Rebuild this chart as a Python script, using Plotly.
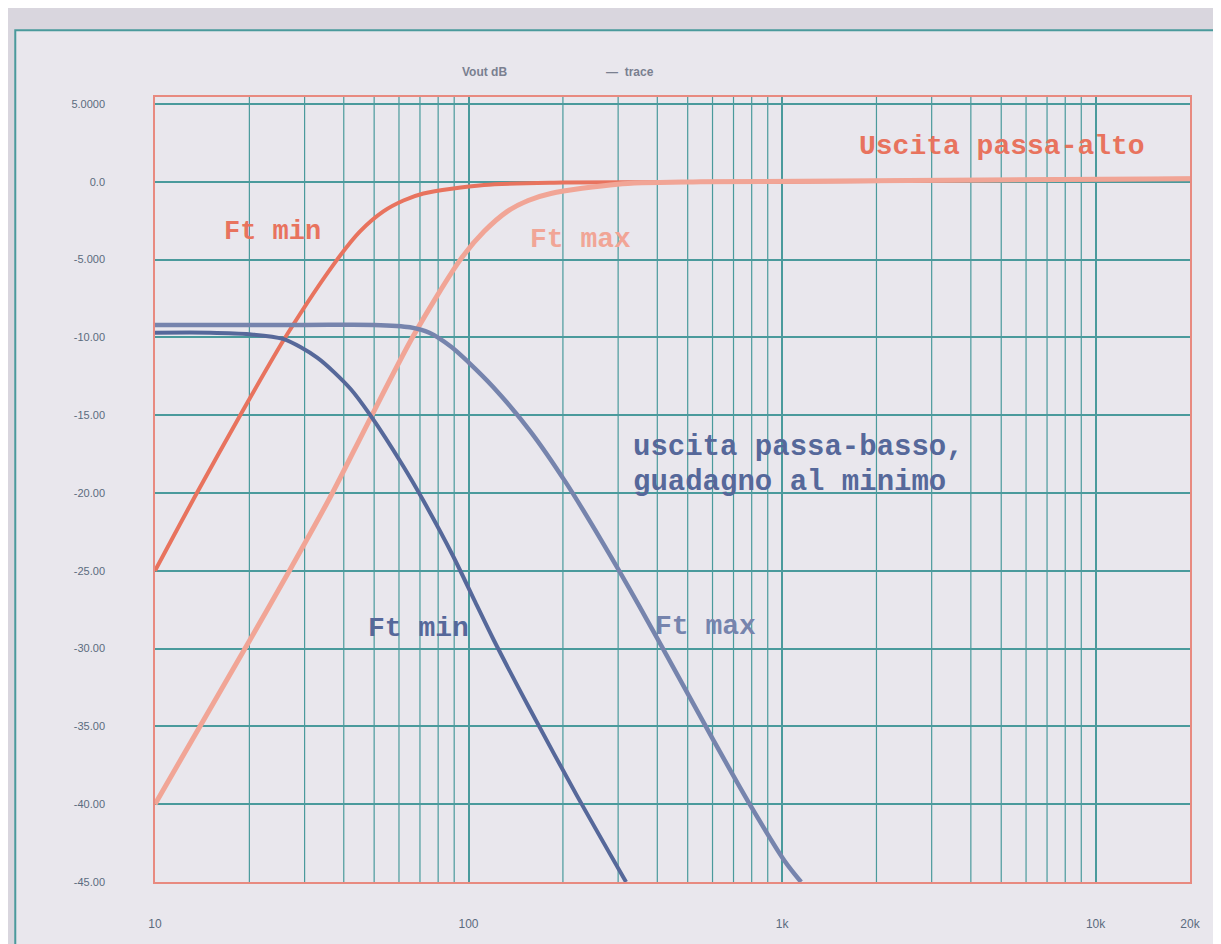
import plotly.graph_objects as go

# ---------------- data ----------------
# High-pass output, Ft min
hp_min_f = [10, 13.6, 18.7, 26.4, 38.1, 45, 53.5, 62, 71.8, 112, 200, 1000, 20000]
hp_min_db = [-25.0, -20.0, -15.0, -9.8, -5.0, -3.2, -1.9, -1.2, -0.75, -0.2, -0.05, 0.0, 0.2]

# High-pass output, Ft max
hp_max_f = [10, 20.4, 27.0, 36.8, 47.5, 66.7, 94.2, 112, 133, 155, 183, 299, 551, 20000]
hp_max_db = [-40.0, -29.2, -24.9, -20.0, -15.6, -9.9, -5.0, -3.2, -1.9, -1.2, -0.75, -0.15, 0.0, 0.2]

# Low-pass output (gain at minimum), Ft min
lp_min_f = [10, 15, 20, 25.6, 32.9, 42.0, 48.6, 62.0, 71.8, 89, 105, 120, 157, 221, 318]
lp_min_db = [-9.7, -9.7, -9.8, -10.1, -11.3, -13.3, -15.0, -18.3, -20.5, -24.0, -27.0, -29.4, -33.9, -39.4, -45.0]

# Low-pass output (gain at minimum), Ft max
lp_max_f = [10, 30, 50, 65, 75, 88, 100, 120, 157, 204, 268, 349, 458, 597, 778, 1023, 1150]
lp_max_db = [-9.2, -9.2, -9.2, -9.35, -9.7, -10.6, -11.6, -13.2, -16.0, -19.3, -23.2, -27.2, -31.5, -35.7, -39.8, -43.7, -45.0]

y_tickvals = [5, 0, -5, -10, -15, -20, -25, -30, -35, -40, -45]
y_ticktext = ["5.0000", "0.0", "-5.000", "-10.00", "-15.00", "-20.00", "-25.00",
              "-30.00", "-35.00", "-40.00", "-45.00"]
x_tickvals = [10, 100, 1000, 10000, 20000]
x_ticktext = ["10", "100", "1k", "10k", "20k"]

# minor grid frequencies
minor_f = [m * d for d in (10, 100, 1000) for m in range(2, 10)]

# ---------------- figure ----------------
RED = "#e8735e"
RED_L = "#f1a596"
BLUE = "#56689a"
BLUE_L = "#7684ad"
GRID = "#4a9a9c"
TXT = "#5b6b7e"

fig = go.Figure()
fig.add_trace(go.Scatter(x=hp_min_f, y=hp_min_db, mode="lines",
                         line=dict(color=RED, width=4, shape="spline", smoothing=0.8), showlegend=False))
fig.add_trace(go.Scatter(x=hp_max_f, y=hp_max_db, mode="lines",
                         line=dict(color=RED_L, width=5, shape="spline", smoothing=0.8), showlegend=False))
fig.add_trace(go.Scatter(x=lp_min_f, y=lp_min_db, mode="lines",
                         line=dict(color=BLUE, width=4, shape="spline", smoothing=0.8), showlegend=False))
fig.add_trace(go.Scatter(x=lp_max_f, y=lp_max_db, mode="lines",
                         line=dict(color=BLUE_L, width=4.5, shape="spline", smoothing=0.8), showlegend=False))

shapes = []
# outer frame of the photographed page
shapes.append(dict(type="rect", xref="paper", yref="paper", x0=-0.135, x1=1.05, y0=-0.12, y1=1.085,
                   line=dict(color=GRID, width=2), fillcolor="#e9e7ed", layer="below"))
# minor vertical grid
for f in minor_f:
    shapes.append(dict(type="line", xref="x", yref="paper", x0=f, x1=f, y0=0, y1=1,
                       line=dict(color=GRID, width=1.2), layer="below"))

fig.update_layout(
    width=1213, height=936,
    margin=dict(l=147, r=31, t=89, b=62),
    paper_bgcolor="#d9d6de",
    plot_bgcolor="#efeef2",
    shapes=shapes,
    font=dict(family="Liberation Sans", color=TXT, size=11),
    xaxis=dict(type="log", range=[1, 4.30103], tickvals=x_tickvals, ticktext=x_ticktext,
               showgrid=True, gridcolor=GRID, gridwidth=1.5, zeroline=False,
               showline=True, linecolor="#e88a80", linewidth=1.5, mirror=True,
               ticks="", tickfont=dict(size=12, color=TXT), ticklabelstandoff=30),
    yaxis=dict(range=[-45, 5.45], tickvals=y_tickvals, ticktext=y_ticktext,
               showgrid=True, gridcolor=GRID, gridwidth=1.5, zeroline=False,
               showline=True, linecolor="#e88a80", linewidth=1.5, mirror=True,
               ticks="", tickfont=dict(size=11, color=TXT), ticklabelstandoff=46),
)

mono = "Liberation Mono"
ann = [
    dict(x=3.70, y=2.25, text="<b>Uscita passa-alto</b>", font=dict(family=mono, size=28, color=RED)),
    dict(x=1.374, y=-3.2, text="<b>Ft min</b>", font=dict(family=mono, size=27, color=RED)),
    dict(x=2.358, y=-3.7, text="<b>Ft max</b>", font=dict(family=mono, size=28, color=RED_L)),
    dict(x=2.518, y=-17.1, text="<b>uscita passa-basso,</b>", xanchor="left",
         font=dict(family=mono, size=29, color=BLUE)),
    dict(x=2.518, y=-19.3, text="<b>guadagno al minimo</b>", xanchor="left",
         font=dict(family=mono, size=29, color=BLUE)),
    dict(x=1.84, y=-28.7, text="<b>Ft min</b>", font=dict(family=mono, size=28, color=BLUE)),
    dict(x=2.757, y=-28.6, text="<b>Ft max</b>", font=dict(family=mono, size=28, color=BLUE_L)),
]
for a in ann:
    a.update(xref="x", yref="y", showarrow=False)
    fig.add_annotation(**a)

fig.add_annotation(xref="paper", yref="paper", x=(460 - 155) / 1035, y=(882 - 63) / 785,
                   text="<b>Vout dB</b>", showarrow=False, font=dict(size=12, color="#7a8090"))
fig.add_annotation(xref="paper", yref="paper", x=(630 - 155) / 1035, y=(882 - 63) / 785,
                   text="<b>—  trace</b>", showarrow=False, font=dict(size=12, color="#7a8090"))

fig.write_html("out.html")
